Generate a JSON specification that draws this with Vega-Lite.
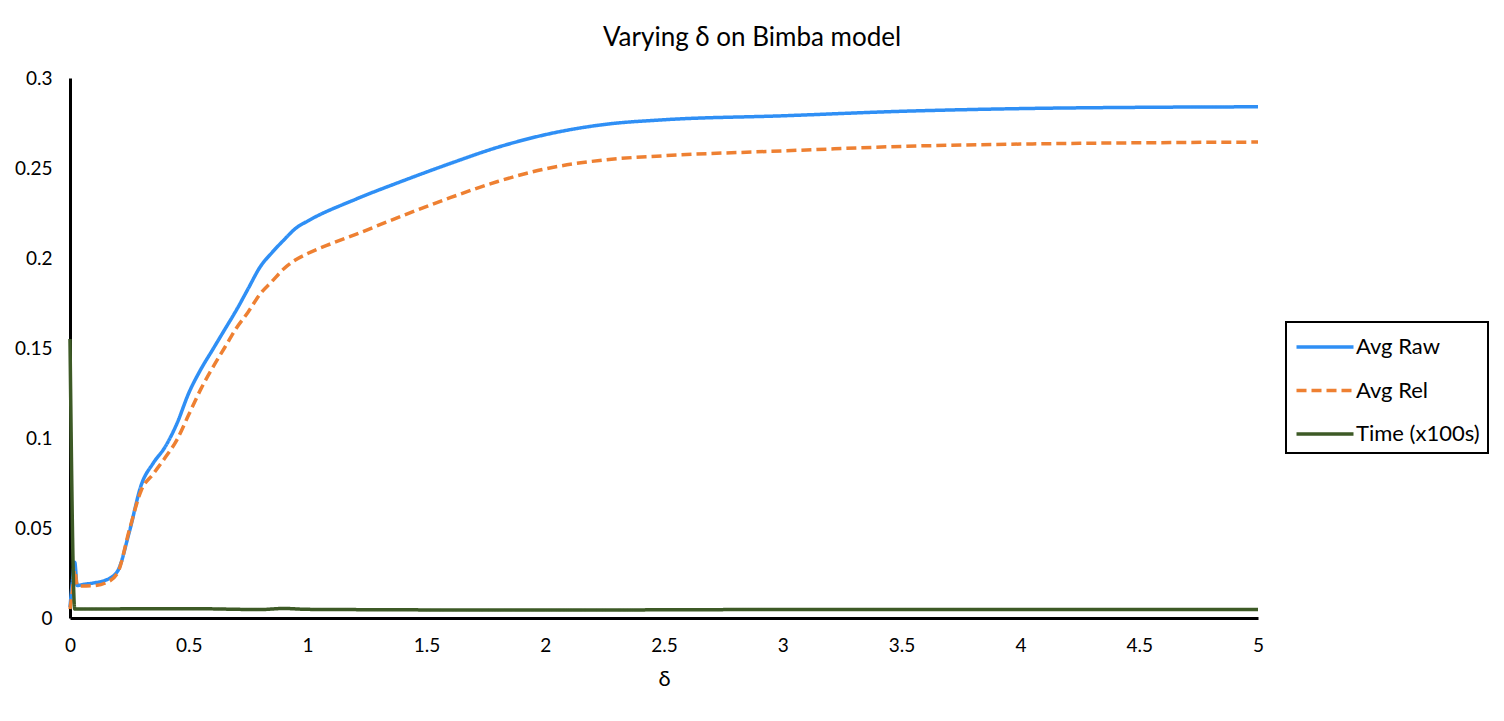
{
  "$schema": "https://vega.github.io/schema/vega-lite/v6.json",
  "width": 1188,
  "height": 540,
  "autosize": "none",
  "padding": {"left": 70, "top": 78, "right": 246, "bottom": 103},
  "background": "white",
  "title": {"text": "Varying δ on Bimba model", "font": "Lato", "fontSize": 26, "fontWeight": "normal", "color": "black", "anchor": "middle", "dx": 88, "offset": 18},
  "config": {"view": {"stroke": null}, "font": "Lato"},
  "data": {"values": [
    {"d": 0, "v": 0.006, "s": "Avg Raw"},
    {"d": 0.01, "v": 0.02, "s": "Avg Raw"},
    {"d": 0.02, "v": 0.031, "s": "Avg Raw"},
    {"d": 0.03, "v": 0.018, "s": "Avg Raw"},
    {"d": 0.05, "v": 0.0185, "s": "Avg Raw"},
    {"d": 0.1, "v": 0.0195, "s": "Avg Raw"},
    {"d": 0.15, "v": 0.021, "s": "Avg Raw"},
    {"d": 0.2, "v": 0.026, "s": "Avg Raw"},
    {"d": 0.25, "v": 0.048, "s": "Avg Raw"},
    {"d": 0.3, "v": 0.074, "s": "Avg Raw"},
    {"d": 0.35, "v": 0.086, "s": "Avg Raw"},
    {"d": 0.4, "v": 0.095, "s": "Avg Raw"},
    {"d": 0.45, "v": 0.108, "s": "Avg Raw"},
    {"d": 0.5, "v": 0.125, "s": "Avg Raw"},
    {"d": 0.55, "v": 0.138, "s": "Avg Raw"},
    {"d": 0.6, "v": 0.149, "s": "Avg Raw"},
    {"d": 0.65, "v": 0.16, "s": "Avg Raw"},
    {"d": 0.7, "v": 0.171, "s": "Avg Raw"},
    {"d": 0.75, "v": 0.183, "s": "Avg Raw"},
    {"d": 0.8, "v": 0.195, "s": "Avg Raw"},
    {"d": 0.85, "v": 0.203, "s": "Avg Raw"},
    {"d": 0.9, "v": 0.21, "s": "Avg Raw"},
    {"d": 0.95, "v": 0.2165, "s": "Avg Raw"},
    {"d": 1.0, "v": 0.2205, "s": "Avg Raw"},
    {"d": 1.2, "v": 0.2325, "s": "Avg Raw"},
    {"d": 1.4, "v": 0.2428, "s": "Avg Raw"},
    {"d": 1.6, "v": 0.2525, "s": "Avg Raw"},
    {"d": 1.8, "v": 0.2615, "s": "Avg Raw"},
    {"d": 2.0, "v": 0.2685, "s": "Avg Raw"},
    {"d": 2.25, "v": 0.2742, "s": "Avg Raw"},
    {"d": 2.5, "v": 0.2768, "s": "Avg Raw"},
    {"d": 3.0, "v": 0.279, "s": "Avg Raw"},
    {"d": 3.5, "v": 0.2815, "s": "Avg Raw"},
    {"d": 4.0, "v": 0.283, "s": "Avg Raw"},
    {"d": 4.5, "v": 0.2837, "s": "Avg Raw"},
    {"d": 5.0, "v": 0.284, "s": "Avg Raw"},
    {"d": 0, "v": 0.005, "s": "Avg Rel"},
    {"d": 0.01, "v": 0.015, "s": "Avg Rel"},
    {"d": 0.02, "v": 0.027, "s": "Avg Rel"},
    {"d": 0.03, "v": 0.018, "s": "Avg Rel"},
    {"d": 0.05, "v": 0.0178, "s": "Avg Rel"},
    {"d": 0.1, "v": 0.018, "s": "Avg Rel"},
    {"d": 0.15, "v": 0.0195, "s": "Avg Rel"},
    {"d": 0.2, "v": 0.025, "s": "Avg Rel"},
    {"d": 0.25, "v": 0.049, "s": "Avg Rel"},
    {"d": 0.3, "v": 0.071, "s": "Avg Rel"},
    {"d": 0.35, "v": 0.08, "s": "Avg Rel"},
    {"d": 0.4, "v": 0.089, "s": "Avg Rel"},
    {"d": 0.45, "v": 0.099, "s": "Avg Rel"},
    {"d": 0.5, "v": 0.113, "s": "Avg Rel"},
    {"d": 0.55, "v": 0.127, "s": "Avg Rel"},
    {"d": 0.6, "v": 0.139, "s": "Avg Rel"},
    {"d": 0.65, "v": 0.15, "s": "Avg Rel"},
    {"d": 0.7, "v": 0.161, "s": "Avg Rel"},
    {"d": 0.75, "v": 0.17, "s": "Avg Rel"},
    {"d": 0.8, "v": 0.18, "s": "Avg Rel"},
    {"d": 0.85, "v": 0.187, "s": "Avg Rel"},
    {"d": 0.9, "v": 0.194, "s": "Avg Rel"},
    {"d": 0.95, "v": 0.199, "s": "Avg Rel"},
    {"d": 1.0, "v": 0.2025, "s": "Avg Rel"},
    {"d": 1.1, "v": 0.208, "s": "Avg Rel"},
    {"d": 1.2, "v": 0.213, "s": "Avg Rel"},
    {"d": 1.4, "v": 0.2235, "s": "Avg Rel"},
    {"d": 1.6, "v": 0.2335, "s": "Avg Rel"},
    {"d": 1.8, "v": 0.2425, "s": "Avg Rel"},
    {"d": 2.0, "v": 0.2495, "s": "Avg Rel"},
    {"d": 2.25, "v": 0.2545, "s": "Avg Rel"},
    {"d": 2.5, "v": 0.2568, "s": "Avg Rel"},
    {"d": 3.0, "v": 0.2595, "s": "Avg Rel"},
    {"d": 3.5, "v": 0.262, "s": "Avg Rel"},
    {"d": 4.0, "v": 0.2633, "s": "Avg Rel"},
    {"d": 4.5, "v": 0.264, "s": "Avg Rel"},
    {"d": 5.0, "v": 0.2644, "s": "Avg Rel"},
    {"d": 0, "v": 0.155, "s": "Time (x100s)"},
    {"d": 0.02, "v": 0.005, "s": "Time (x100s)"},
    {"d": 0.5, "v": 0.0052, "s": "Time (x100s)"},
    {"d": 0.8, "v": 0.0047, "s": "Time (x100s)"},
    {"d": 0.9, "v": 0.0053, "s": "Time (x100s)"},
    {"d": 1.0, "v": 0.0048, "s": "Time (x100s)"},
    {"d": 2.0, "v": 0.0044, "s": "Time (x100s)"},
    {"d": 3.0, "v": 0.0047, "s": "Time (x100s)"},
    {"d": 5.0, "v": 0.0047, "s": "Time (x100s)"}
  ]},
  "mark": {"type": "line", "strokeWidth": 3.5, "interpolate": "monotone", "clip": false},
  "encoding": {
    "x": {"field": "d", "type": "quantitative", "scale": {"domain": [0, 5], "nice": false},
      "axis": {"title": "δ", "titleFont": "Lato", "titleFontSize": 22, "titleFontWeight": "normal", "titleColor": "black", "titlePadding": 13,
        "values": [0, 0.5, 1, 1.5, 2, 2.5, 3, 3.5, 4, 4.5, 5], "labelExpr": "format(datum.value, '~g')",
        "labelFont": "Lato", "labelFontSize": 19, "labelColor": "black", "labelPadding": 18, "tickSize": 0, "grid": false,
        "domainColor": "black", "domainWidth": 3, "labelFlush": false}},
    "y": {"field": "v", "type": "quantitative", "scale": {"domain": [0, 0.3], "nice": false},
      "axis": {"title": null, "values": [0, 0.05, 0.1, 0.15, 0.2, 0.25, 0.3], "labelExpr": "format(datum.value, '~g')",
        "labelFont": "Lato", "labelFontSize": 19, "labelColor": "black", "labelPadding": 18, "tickSize": 0, "grid": false,
        "domainColor": "black", "domainWidth": 3}},
    "color": {"field": "s", "type": "nominal",
      "scale": {"domain": ["Avg Raw", "Avg Rel", "Time (x100s)"], "range": ["#2f8ff5", "#ee8032", "#3d5a26"]},
      "legend": {"title": null, "orient": "none", "legendX": 1216, "legendY": 244, "padding": 8,
        "strokeColor": "black", "symbolType": "M-1.9,0H1.9", "symbolSize": 900, "symbolStrokeWidth": 3.5, "symbolOffset": 14,
        "labelFont": "Lato", "labelFontSize": 22, "labelColor": "black", "labelOffset": 14, "rowPadding": 15.5,
        "encode": {"legend": {"update": {"strokeWidth": {"value": 2}}}}}},
    "strokeDash": {"field": "s", "type": "nominal",
      "scale": {"domain": ["Avg Raw", "Avg Rel", "Time (x100s)"], "range": [[1, 0], [10, 5], [1, 0]]}, "legend": null}
  }
}
